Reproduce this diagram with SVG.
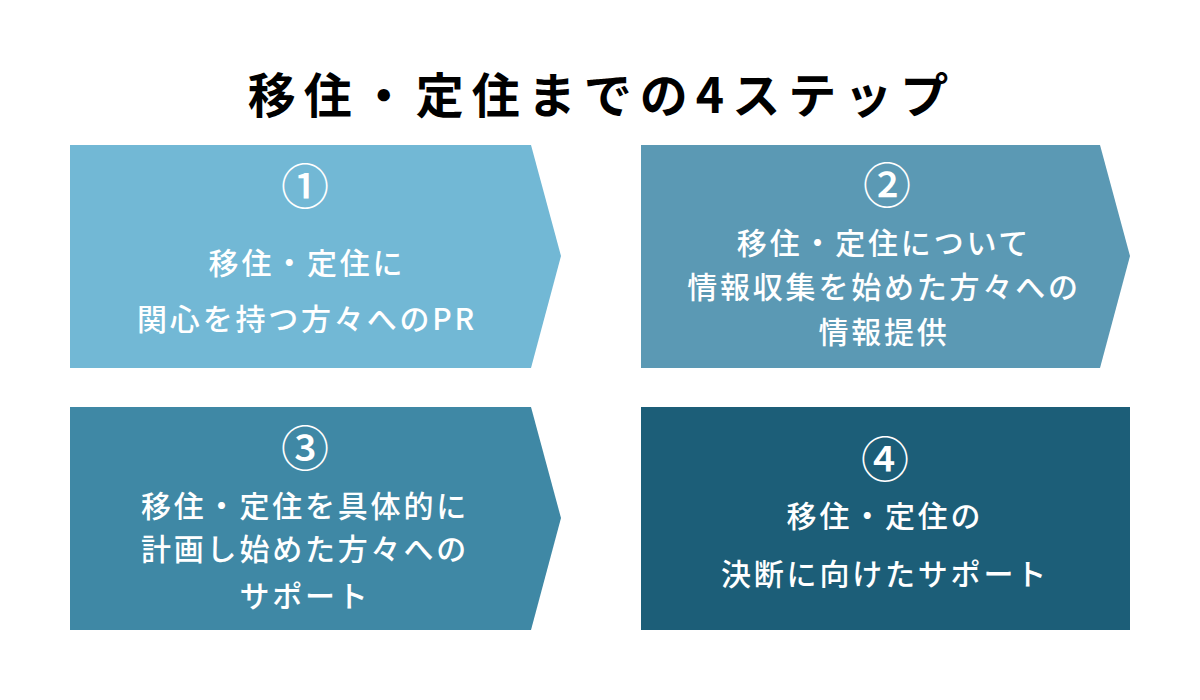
<svg xmlns="http://www.w3.org/2000/svg" width="1200" height="700" viewBox="0 0 1200 700">
<style>
.t{font-family:"Noto Sans CJK JP","Noto Sans",sans-serif;fill:#fff;text-anchor:middle}
.title{font-family:"Noto Sans CJK JP","Noto Sans",sans-serif;fill:#000;font-weight:700;font-size:48px;letter-spacing:8px;text-anchor:middle}
.num{font-size:48px;font-weight:500}
.ln{font-size:30px;font-weight:500;letter-spacing:2.8px}
</style>
<rect width="1200" height="700" fill="#fff"/>
<text class="title" x="602" y="113">移住・定住までの4ステップ</text>
<g id="step1">
<polygon points="70,145 531,145 561,256 531,368 70,368" fill="#72B8D5"/>
<text class="t num" x="305" y="204">①</text>
<text class="t ln" x="307" y="274">移住・定住に</text>
<text class="t ln" x="307" y="330">関心を持つ方々へのPR</text>
</g>
<g id="step2">
<polygon points="641,145 1100,145 1130,256 1100,368 641,368" fill="#5B99B4"/>
<text class="t num" x="887" y="203">②</text>
<text class="t ln" x="884" y="254">移住・定住について</text>
<text class="t ln" x="884" y="298">情報収集を始めた方々への</text>
<text class="t ln" x="884" y="343">情報提供</text>
</g>
<g id="step3">
<polygon points="70,407 531,407 561,518 531,630 70,630" fill="#3F88A5"/>
<text class="t num" x="305" y="466">③</text>
<text class="t ln" x="305" y="517">移住・定住を具体的に</text>
<text class="t ln" x="305" y="560">計画し始めた方々への</text>
<text class="t ln" x="305" y="607">サポート</text>
</g>
<g id="step4">
<rect x="641" y="407" width="489" height="223" fill="#1C5E78"/>
<text class="t num" x="885" y="477">④</text>
<text class="t ln" x="885" y="527">移住・定住の</text>
<text class="t ln" x="885" y="585">決断に向けたサポート</text>
</g>
<g id="connectors"></g>
</svg>
